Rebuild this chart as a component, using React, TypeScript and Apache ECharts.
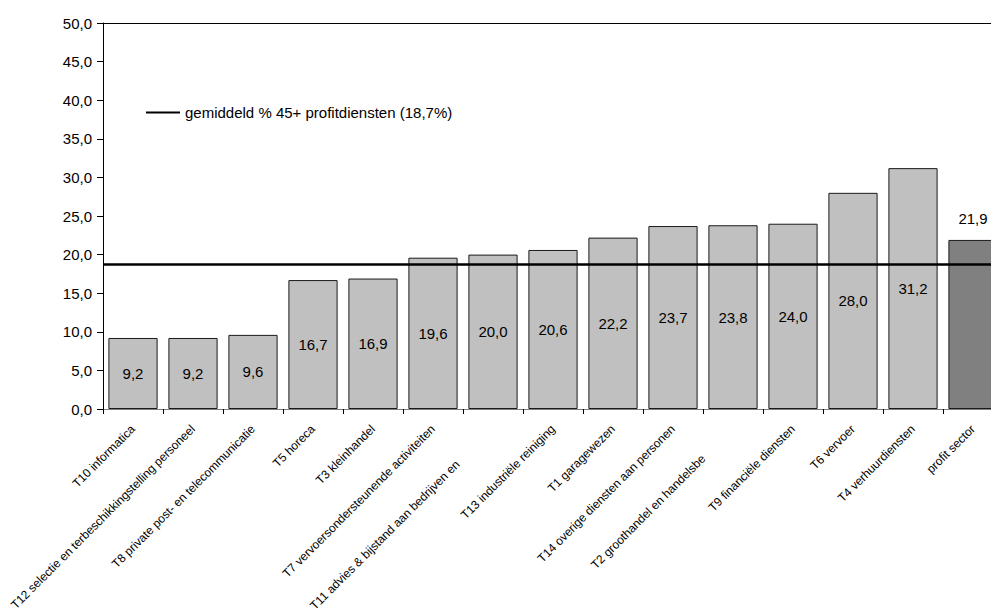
import React, { useEffect, useRef } from "react";
import * as echarts from "echarts";

const categories: string[] = [
  "T10 informatica",
  "T12 selectie en terbeschikkingstelling personeel",
  "T8 private post- en telecommunicatie",
  "T5 horeca",
  "T3 kleinhandel",
  "T7 vervoersondersteunende activiteiten",
  "T11 advies & bijstand aan bedrijven en",
  "T13 industriële reiniging",
  "T1 garagewezen",
  "T14 overige diensten aan personen",
  "T2 groothandel en handelsbe",
  "T9 financiële diensten",
  "T6 vervoer",
  "T4 verhuurdiensten",
  "profit sector",
];

const values: number[] = [9.2, 9.2, 9.6, 16.7, 16.9, 19.6, 20.0, 20.6, 22.2, 23.7, 23.8, 24.0, 28.0, 31.2, 21.9];

const averageValue = 18.7;
const averageName = "gemiddeld % 45+ profitdiensten (18,7%)";
const yTicks = { min: 0, max: 50, interval: 5 };

const FONT = "'Liberation Sans', Arial, sans-serif";
const fmt = (v: number) => v.toFixed(1).replace(".", ",");

// label shifts (style only) for the two labels that are pushed down in the reference
const labelShift: Record<string, number> = {
  "T11 advies & bijstand aan bedrijven en": 50,
  "T2 groothandel en handelsbe": 42,
};

export default function App() {
  const ref = useRef<HTMLDivElement>(null);
  useEffect(() => {
    if (!ref.current) return;
    const chart = echarts.init(ref.current, undefined, { renderer: "svg" });
    const last = values.length - 1;
    const barData = values.map((v, i) =>
      i === last
        ? {
            value: v,
            itemStyle: { color: "#808080" },
            label: { position: "top", distance: 14 },
          }
        : { value: v }
    );
    chart.setOption({
      animation: false,
      backgroundColor: "#ffffff",
      textStyle: { fontFamily: FONT },
      grid: {
        left: 103,
        top: 23,
        width: 900,
        height: 386,
        containLabel: false,
        outerBoundsMode: "none",
      },
      legend: {
        left: 141,
        top: 100,
        data: [{ name: averageName, icon: "rect" }],
        itemWidth: 34,
        itemHeight: 2,
        itemGap: 10,
        textStyle: { fontSize: 15, color: "#000", fontFamily: FONT },
        selectedMode: false,
      },
      xAxis: [
        {
          type: "category",
          data: categories,
          position: "bottom",
          axisLine: { lineStyle: { color: "#808080", width: 1 } },
          axisTick: { show: true, length: 5, lineStyle: { color: "#000" } },
          axisLabel: {
            interval: 0,
            rotate: 45,
            margin: 18,
            fontSize: 12,
            color: "#000",
            fontFamily: FONT,
            formatter: (val: string) =>
              labelShift[val] !== undefined ? `{s${labelShift[val]}|${val}}` : val,
            rich: Object.fromEntries(
              Object.values(labelShift).map((p) => [
                `s${p}`,
                { padding: [0, p, 0, 0], fontSize: 12, color: "#000", fontFamily: FONT },
              ])
            ),
          },
        },
        {
          type: "category",
          data: categories,
          position: "top",
          axisLine: { show: true, lineStyle: { color: "#000", width: 1 } },
          axisTick: { show: false },
          axisLabel: { show: false },
        },
      ],
      yAxis: {
        type: "value",
        min: yTicks.min,
        max: yTicks.max,
        interval: yTicks.interval,
        splitLine: { show: false },
        axisLine: { show: true, lineStyle: { color: "#000", width: 1 } },
        axisTick: { show: true, length: 6, lineStyle: { color: "#000" } },
        axisLabel: {
          margin: 11,
          fontSize: 15,
          color: "#000",
          fontFamily: FONT,
          formatter: (v: number) => fmt(v),
        },
      },
      series: [
        {
          type: "bar",
          data: barData,
          barCategoryGap: "18%",
          itemStyle: { color: "#C0C0C0", borderColor: "#1a1a1a", borderWidth: 1 },
          label: {
            show: true,
            position: "inside",
            fontSize: 15,
            color: "#000",
            fontFamily: FONT,
            formatter: (p: any) => fmt(p.value),
          },
          z: 2,
        },
        {
          name: averageName,
          type: "line",
          data: [],
          color: "#000",
          itemStyle: { color: "#000" },
          lineStyle: { color: "#000", width: 2.5 },
          markLine: {
            silent: true,
            symbol: "none",
            label: { show: false },
            lineStyle: { color: "#000", width: 2.5, type: "solid" },
            data: [{ yAxis: averageValue }],
          },
          z: 5,
        },
      ],
    });
    return () => chart.dispose();
  }, []);
  return (
    <div
      ref={ref}
      style={{ position: "fixed", left: 0, top: 0, width: 991, height: 613, background: "#fff" }}
    />
  );
}
